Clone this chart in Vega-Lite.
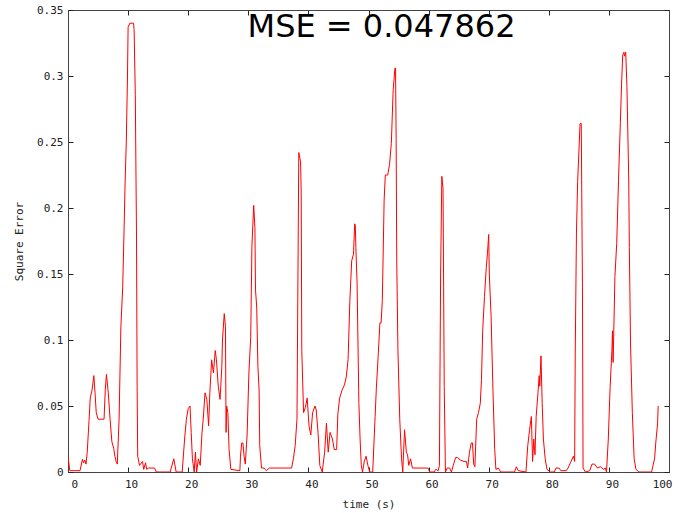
{
  "$schema": "https://vega.github.io/schema/vega-lite/v6.json",
  "width": 601,
  "height": 462,
  "autosize": "none",
  "padding": {"left": 68, "top": 10, "right": 10, "bottom": 41},
  "background": "white",
  "config": {
    "view": {"stroke": "#444", "strokeWidth": 1},
    "axis": {
      "grid": false,
      "domainColor": "#444",
      "tickColor": "#222",
      "tickSize": -5,
      "labelFont": "DejaVu Sans Mono",
      "labelFontSize": 11,
      "labelColor": "#222",
      "titleFont": "DejaVu Sans Mono",
      "titleFontSize": 11,
      "titleFontWeight": "normal",
      "titleColor": "#222"
    }
  },
  "title": {
    "text": "MSE = 0.047862",
    "font": "DejaVu Sans",
    "fontSize": 32,
    "fontWeight": "normal",
    "color": "black",
    "anchor": "middle",
    "baseline": "alphabetic",
    "offset": -29,
    "dy": 36,
    "dx": 13
  },
  "data": {
    "values": [
      {"t":0,"e":0.012},{"t":0.3,"e":0.001},{"t":2.0,"e":0.001},{"t":2.4,"e":0.0096},{"t":2.6,"e":0.007},{"t":2.8,"e":0.009},{"t":3.0,"e":0.006},{"t":3.2,"e":0.015},{"t":3.5,"e":0.039},{"t":3.7,"e":0.056},{"t":4.0,"e":0.062},{"t":4.3,"e":0.073},{"t":4.5,"e":0.06},{"t":4.7,"e":0.045},{"t":5.0,"e":0.04},{"t":6.0,"e":0.04},{"t":6.2,"e":0.062},{"t":6.4,"e":0.074},{"t":6.7,"e":0.06},{"t":7.0,"e":0.04},{"t":7.3,"e":0.023},{"t":7.6,"e":0.018},{"t":7.8,"e":0.012},{"t":8.0,"e":0.008},{"t":8.2,"e":0.006},{"t":8.5,"e":0.04},{"t":8.8,"e":0.11},{"t":9.1,"e":0.14},{"t":9.3,"e":0.178},{"t":9.5,"e":0.219},{"t":9.7,"e":0.25},{"t":9.9,"e":0.3},{"t":10.0,"e":0.337},{"t":10.3,"e":0.34},{"t":10.9,"e":0.34},{"t":11.0,"e":0.335},{"t":11.2,"e":0.286},{"t":11.4,"e":0.178},{"t":11.5,"e":0.065},{"t":11.6,"e":0.012},{"t":11.9,"e":0.005},{"t":12.4,"e":0.008},{"t":12.6,"e":0.002},{"t":12.9,"e":0.007},{"t":13.1,"e":0.002},{"t":13.4,"e":0.003},{"t":14.4,"e":0.003},{"t":14.7,"e":0.0},{"t":17.0,"e":0.0},{"t":17.6,"e":0.01},{"t":18.0,"e":0.0},{"t":19.0,"e":0.0},{"t":19.4,"e":0.025},{"t":19.7,"e":0.04},{"t":20.0,"e":0.048},{"t":20.3,"e":0.05},{"t":20.5,"e":0.03},{"t":20.7,"e":0.01},{"t":21.0,"e":0.0},{"t":21.2,"e":0.015},{"t":21.4,"e":0.0},{"t":21.7,"e":0.01},{"t":22.0,"e":0.005},{"t":22.3,"e":0.03},{"t":22.5,"e":0.04},{"t":22.8,"e":0.06},{"t":23.1,"e":0.055},{"t":23.4,"e":0.035},{"t":23.6,"e":0.06},{"t":23.9,"e":0.085},{"t":24.2,"e":0.075},{"t":24.5,"e":0.092},{"t":24.7,"e":0.085},{"t":25.0,"e":0.065},{"t":25.3,"e":0.055},{"t":25.6,"e":0.08},{"t":25.7,"e":0.1},{"t":26.0,"e":0.12},{"t":26.2,"e":0.11},{"t":26.3,"e":0.03},{"t":26.4,"e":0.05},{"t":26.6,"e":0.045},{"t":26.8,"e":0.017},{"t":27.1,"e":0.002},{"t":28.6,"e":0.001},{"t":28.7,"e":0.012},{"t":28.9,"e":0.022},{"t":29.1,"e":0.022},{"t":29.3,"e":0.012},{"t":29.5,"e":0.006},{"t":29.8,"e":0.028},{"t":30.1,"e":0.075},{"t":30.4,"e":0.102},{"t":30.5,"e":0.135},{"t":30.6,"e":0.171},{"t":30.9,"e":0.202},{"t":31.1,"e":0.185},{"t":31.2,"e":0.138},{"t":31.4,"e":0.125},{"t":31.6,"e":0.08},{"t":31.8,"e":0.062},{"t":31.9,"e":0.02},{"t":32.2,"e":0.003},{"t":32.6,"e":0.003},{"t":33.0,"e":0.001},{"t":33.5,"e":0.003},{"t":37.2,"e":0.003},{"t":37.5,"e":0.01},{"t":37.8,"e":0.02},{"t":38.1,"e":0.04},{"t":38.4,"e":0.242},{"t":38.7,"e":0.235},{"t":38.8,"e":0.212},{"t":38.9,"e":0.092},{"t":39.2,"e":0.045},{"t":39.5,"e":0.049},{"t":39.8,"e":0.056},{"t":40.1,"e":0.035},{"t":40.4,"e":0.028},{"t":40.7,"e":0.045},{"t":41.1,"e":0.05},{"t":41.3,"e":0.047},{"t":41.6,"e":0.03},{"t":41.9,"e":0.005},{"t":42.3,"e":0.0},{"t":42.7,"e":0.015},{"t":43.0,"e":0.037},{"t":43.3,"e":0.015},{"t":43.6,"e":0.03},{"t":44.0,"e":0.025},{"t":44.3,"e":0.017},{"t":44.7,"e":0.017},{"t":44.9,"e":0.044},{"t":45.2,"e":0.056},{"t":45.6,"e":0.062},{"t":46.0,"e":0.066},{"t":46.3,"e":0.072},{"t":46.6,"e":0.085},{"t":46.9,"e":0.13},{"t":47.2,"e":0.16},{"t":47.5,"e":0.165},{"t":47.7,"e":0.188},{"t":47.8,"e":0.187},{"t":47.9,"e":0.17},{"t":48.1,"e":0.143},{"t":48.4,"e":0.052},{"t":48.6,"e":0.025},{"t":48.8,"e":0.005},{"t":49.0,"e":0.0},{"t":49.3,"e":0.008},{"t":49.6,"e":0.012},{"t":49.9,"e":0.005},{"t":50.2,"e":0.0},{"t":50.7,"e":0.0},{"t":51.1,"e":0.042},{"t":51.3,"e":0.063},{"t":51.6,"e":0.087},{"t":51.9,"e":0.113},{"t":52.1,"e":0.113},{"t":52.3,"e":0.13},{"t":52.6,"e":0.206},{"t":52.8,"e":0.225},{"t":53.2,"e":0.225},{"t":53.5,"e":0.233},{"t":53.8,"e":0.249},{"t":54.1,"e":0.289},{"t":54.4,"e":0.306},{"t":54.5,"e":0.306},{"t":54.6,"e":0.252},{"t":54.7,"e":0.16},{"t":54.9,"e":0.092},{"t":55.2,"e":0.04},{"t":55.5,"e":0.01},{"t":55.7,"e":0.0},{"t":56.0,"e":0.032},{"t":56.3,"e":0.015},{"t":56.5,"e":0.013},{"t":56.7,"e":0.005},{"t":57.0,"e":0.01},{"t":57.3,"e":0.003},{"t":59.9,"e":0.003},{"t":60.2,"e":0.0},{"t":60.9,"e":0.0},{"t":61.2,"e":0.002},{"t":61.6,"e":0.001},{"t":61.8,"e":0.005},{"t":62.0,"e":0.15},{"t":62.2,"e":0.224},{"t":62.4,"e":0.215},{"t":62.5,"e":0.14},{"t":62.6,"e":0.065},{"t":62.8,"e":0.0},{"t":63.1,"e":0.003},{"t":63.5,"e":0.003},{"t":63.8,"e":0.0},{"t":64.1,"e":0.005},{"t":64.5,"e":0.011},{"t":64.8,"e":0.011},{"t":65.3,"e":0.009},{"t":65.9,"e":0.008},{"t":66.3,"e":0.008},{"t":66.5,"e":0.003},{"t":66.8,"e":0.015},{"t":67.1,"e":0.022},{"t":67.3,"e":0.022},{"t":67.5,"e":0.006},{"t":67.7,"e":0.004},{"t":68.0,"e":0.04},{"t":68.3,"e":0.045},{"t":68.6,"e":0.052},{"t":68.8,"e":0.07},{"t":69.0,"e":0.107},{"t":69.3,"e":0.133},{"t":69.6,"e":0.155},{"t":69.8,"e":0.166},{"t":70.0,"e":0.18},{"t":70.1,"e":0.15},{"t":70.4,"e":0.118},{"t":70.7,"e":0.063},{"t":71.0,"e":0.017},{"t":71.2,"e":0.002},{"t":71.6,"e":0.003},{"t":72.0,"e":0.0},{"t":74.3,"e":0.0},{"t":74.6,"e":0.004},{"t":74.9,"e":0.001},{"t":76.2,"e":0.0},{"t":76.5,"e":0.02},{"t":76.8,"e":0.032},{"t":77.1,"e":0.042},{"t":77.3,"e":0.008},{"t":77.5,"e":0.025},{"t":77.7,"e":0.013},{"t":77.9,"e":0.042},{"t":78.2,"e":0.06},{"t":78.4,"e":0.073},{"t":78.5,"e":0.065},{"t":78.7,"e":0.088},{"t":78.9,"e":0.052},{"t":79.1,"e":0.025},{"t":79.4,"e":0.01},{"t":79.7,"e":0.002},{"t":80.3,"e":0.0},{"t":80.9,"e":0.0},{"t":81.2,"e":0.003},{"t":81.7,"e":0.003},{"t":82.0,"e":0.001},{"t":82.9,"e":0.001},{"t":83.2,"e":0.003},{"t":83.6,"e":0.007},{"t":84.1,"e":0.012},{"t":84.3,"e":0.008},{"t":84.4,"e":0.09},{"t":84.6,"e":0.181},{"t":84.8,"e":0.22},{"t":85.2,"e":0.264},{"t":85.4,"e":0.264},{"t":85.6,"e":0.14},{"t":85.7,"e":0.003},{"t":86.1,"e":0.0},{"t":86.8,"e":0.001},{"t":87.2,"e":0.006},{"t":87.6,"e":0.006},{"t":88.1,"e":0.003},{"t":88.6,"e":0.004},{"t":89.1,"e":0.002},{"t":89.4,"e":0.003},{"t":89.6,"e":0.0},{"t":89.9,"e":0.025},{"t":90.2,"e":0.064},{"t":90.5,"e":0.092},{"t":90.6,"e":0.107},{"t":90.7,"e":0.083},{"t":90.9,"e":0.125},{"t":91.0,"e":0.148},{"t":91.3,"e":0.173},{"t":91.6,"e":0.221},{"t":91.9,"e":0.264},{"t":92.1,"e":0.293},{"t":92.3,"e":0.316},{"t":92.5,"e":0.318},{"t":92.6,"e":0.315},{"t":92.8,"e":0.318},{"t":93.0,"e":0.292},{"t":93.3,"e":0.222},{"t":93.4,"e":0.17},{"t":93.6,"e":0.097},{"t":93.9,"e":0.045},{"t":94.2,"e":0.01},{"t":94.5,"e":0.002},{"t":95.0,"e":0.0},{"t":97.1,"e":0.0},{"t":97.4,"e":0.006},{"t":97.6,"e":0.01},{"t":97.8,"e":0.022},{"t":98.1,"e":0.037},{"t":98.2,"e":0.05}
    ]
  },
  "layer": [
    {
      "mark": {"type": "line", "color": "#ff0000", "strokeWidth": 1, "clip": true},
      "encoding": {
        "x": {
          "field": "t", "type": "quantitative",
          "scale": {"domain": [0, 100], "nice": false, "zero": false},
          "axis": {"orient": "bottom", "title": "time (s)", "values": [0,10,20,30,40,50,60,70,80,90,100], "format": "d", "labelPadding": 11, "titlePadding": 9, "labelOffset": 3}
        },
        "y": {
          "field": "e", "type": "quantitative",
          "scale": {"domain": [0, 0.35], "nice": false},
          "axis": {"orient": "left", "title": "Square Error", "values": [0,0.05,0.1,0.15,0.2,0.25,0.3,0.35], "format": "~g", "labelPadding": 10, "titlePadding": 12}
        }
      }
    },
    {
      "mark": {"type": "line", "opacity": 0},
      "encoding": {
        "x": {
          "field": "t", "type": "quantitative",
          "axis": {"orient": "top", "title": null, "labels": false, "values": [0,10,20,30,40,50,60,70,80,90,100]}
        },
        "y": {
          "field": "e", "type": "quantitative",
          "axis": {"orient": "right", "title": null, "labels": false, "values": [0,0.05,0.1,0.15,0.2,0.25,0.3,0.35]}
        }
      }
    }
  ],
  "resolve": {"axis": {"x": "independent", "y": "independent"}}
}
